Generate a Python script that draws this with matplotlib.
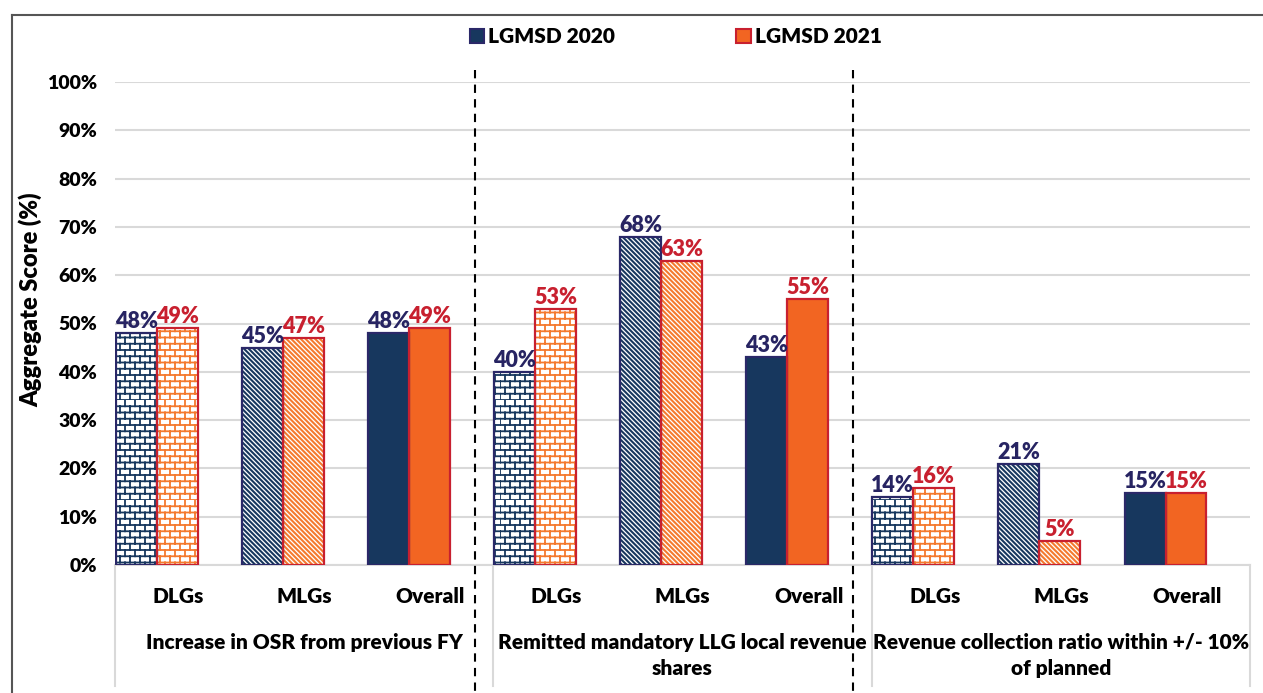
import warnings
import numpy as np
import matplotlib
matplotlib.use("Agg")
import matplotlib.pyplot as plt
import matplotlib.hatch as mhatch
from matplotlib.path import Path
from matplotlib.patches import Patch
from matplotlib.lines import Line2D

warnings.filterwarnings("ignore")

# ---- data -------------------------------------------------------------
categories = ["DLGs", "MLGs", "Overall"] * 3
groups = ["Increase in OSR from previous FY",
          "Remitted mandatory LLG local revenue\nshares",
          "Revenue collection ratio within +/- 10%\nof planned"]
series_names = ["LGMSD 2020", "LGMSD 2021"]
lgmsd_2020 = [48, 45, 48, 40, 68, 43, 14, 21, 15]
lgmsd_2021 = [49, 47, 49, 53, 63, 55, 16, 5, 15]
yticks = [0, 10, 20, 30, 40, 50, 60, 70, 80, 90, 100]


# brick hatch ('b'), matplotlib has none built in
class BrickHatch(mhatch.HatchPatternBase):
    def __init__(self, hatch, density):
        n = hatch.count('b')
        self.rows = 16 * n
        self.cols = 10 * n
        self.num_vertices = self.rows * 2 + self.rows * self.cols * 2 if n else 0

    def set_vertices_and_codes(self, vertices, codes):
        h = 1.0 / self.rows
        w = 1.0 / self.cols
        k = 0
        for r in range(self.rows):
            y = r * h
            vertices[k] = (0.0, y)
            vertices[k + 1] = (1.0, y)
            codes[k] = Path.MOVETO
            codes[k + 1] = Path.LINETO
            k += 2
            off = 0.5 * w if r % 2 else 0.0
            for c in range(self.cols):
                x = c * w + off
                vertices[k] = (x, y)
                vertices[k + 1] = (x, y + h)
                codes[k] = Path.MOVETO
                codes[k + 1] = Path.LINETO
                k += 2


mhatch._hatch_types.append(BrickHatch)

navy_fill = "#17375e"
navy_edge = "#2a2868"
navy_text = "#272462"
orange_fill = "#f26522"
orange_hatch = "#f47a2e"
red_edge = "#c8202f"
red_text = "#c8202f"
grid_col = "#d9d9d9"

plt.rcParams['font.family'] = ['Lato', 'DejaVu Sans']
plt.rcParams['font.weight'] = 'heavy'
fw = 'heavy'

fig = plt.figure(figsize=(12.63, 6.93), dpi=100)
ax = fig.add_axes([115 / 1263, 1 - 565 / 693, 1135 / 1263, 483 / 693])

x = np.arange(len(categories))
w = 0.325
patterns = ['b' if c == "DLGs" else ('\\' * 7 if c == "MLGs" else '') for c in categories]


def draw_bar(xpos, val, pat, fill, hatch_col, edge):
    lw_h = 1.3 if pat.startswith('b') else 1.5
    with plt.rc_context({'hatch.linewidth': lw_h}):
        if pat:
            ax.bar(xpos, val / 100, w, color='white', edgecolor=hatch_col,
                   hatch=pat, linewidth=0, zorder=3)
        else:
            ax.bar(xpos, val / 100, w, color=fill, linewidth=0, zorder=3)
    ax.bar(xpos, val / 100, w, fill=False, edgecolor=edge, linewidth=1.6, zorder=4)


for i in range(len(categories)):
    draw_bar(x[i] - w / 2, lgmsd_2020[i], patterns[i], navy_fill, navy_fill, navy_edge)
    draw_bar(x[i] + w / 2, lgmsd_2021[i], patterns[i], orange_fill, orange_hatch, red_edge)
    ax.text(x[i] - w / 2, lgmsd_2020[i] / 100 + 0.002, f"{lgmsd_2020[i]}%", ha='center',
            va='bottom', color=navy_text, fontsize=15.5, fontweight=fw, zorder=5)
    ax.text(x[i] + w / 2, lgmsd_2021[i] / 100 + 0.002, f"{lgmsd_2021[i]}%", ha='center',
            va='bottom', color=red_text, fontsize=15.5, fontweight=fw, zorder=5)

ax.set_xlim(-0.33, 8.67)
ax.set_ylim(0, 1)
ax.set_yticks([t / 100 for t in yticks])
ax.set_yticklabels([f"{t}%" for t in yticks], fontsize=14, fontweight=fw)
ax.tick_params(axis='y', length=0, pad=13)
ax.set_xticks([])
ax.grid(axis='y', color=grid_col, linewidth=1.5, zorder=0)
ax.set_axisbelow(True)
for s in ['left', 'right', 'top']:
    ax.spines[s].set_visible(False)
ax.spines['bottom'].set_color(grid_col)
ax.spines['bottom'].set_linewidth(1.5)

ax.set_ylabel("Aggregate Score (%)", fontsize=17, fontweight=fw)
ax.yaxis.set_label_coords(-0.064, 0.55)

# category and group labels below the axis
tr = ax.get_xaxis_transform()
for i, c in enumerate(categories):
    ax.text(x[i] + 0.17, -0.066, c, transform=tr, ha='center', va='center',
            fontsize=15, fontweight=fw)
for g, name in enumerate(groups):
    ax.text(3 * g + 1.17, -0.14, name, transform=tr, ha='center', va='top',
            fontsize=15, fontweight=fw, linespacing=1.45)

for xs in [-0.33, 2.67, 5.67, 8.67]:
    ax.add_line(Line2D([xs, xs], [0, -0.25], transform=tr, color=grid_col,
                       linewidth=1.5, clip_on=False))
for xs in [2.525, 5.525]:
    ax.add_line(Line2D([xs, xs], [1.025, -0.27], transform=tr, color='black',
                       linewidth=1.5, linestyle=(0, (4, 3)), clip_on=False, zorder=6))

# outer frame
fig.add_artist(Line2D([12 / 1263, 12 / 1263], [0, 1 - 15 / 693], color='#555555', linewidth=1.5))
fig.add_artist(Line2D([12 / 1263, 1], [1 - 15 / 693, 1 - 15 / 693], color='#555555', linewidth=1.5))

handles = [Patch(facecolor=navy_fill, edgecolor=navy_edge, linewidth=1.5),
           Patch(facecolor=orange_fill, edgecolor=red_edge, linewidth=1.5)]
fig.legend(handles, series_names, loc='center', bbox_to_anchor=(0.535, 0.947), ncol=2,
           frameon=False, handlelength=0.7, handleheight=0.7, handletextpad=0.2,
           columnspacing=5.8, prop={'size': 15, 'weight': fw})

fig.savefig("out.png", dpi=100)
